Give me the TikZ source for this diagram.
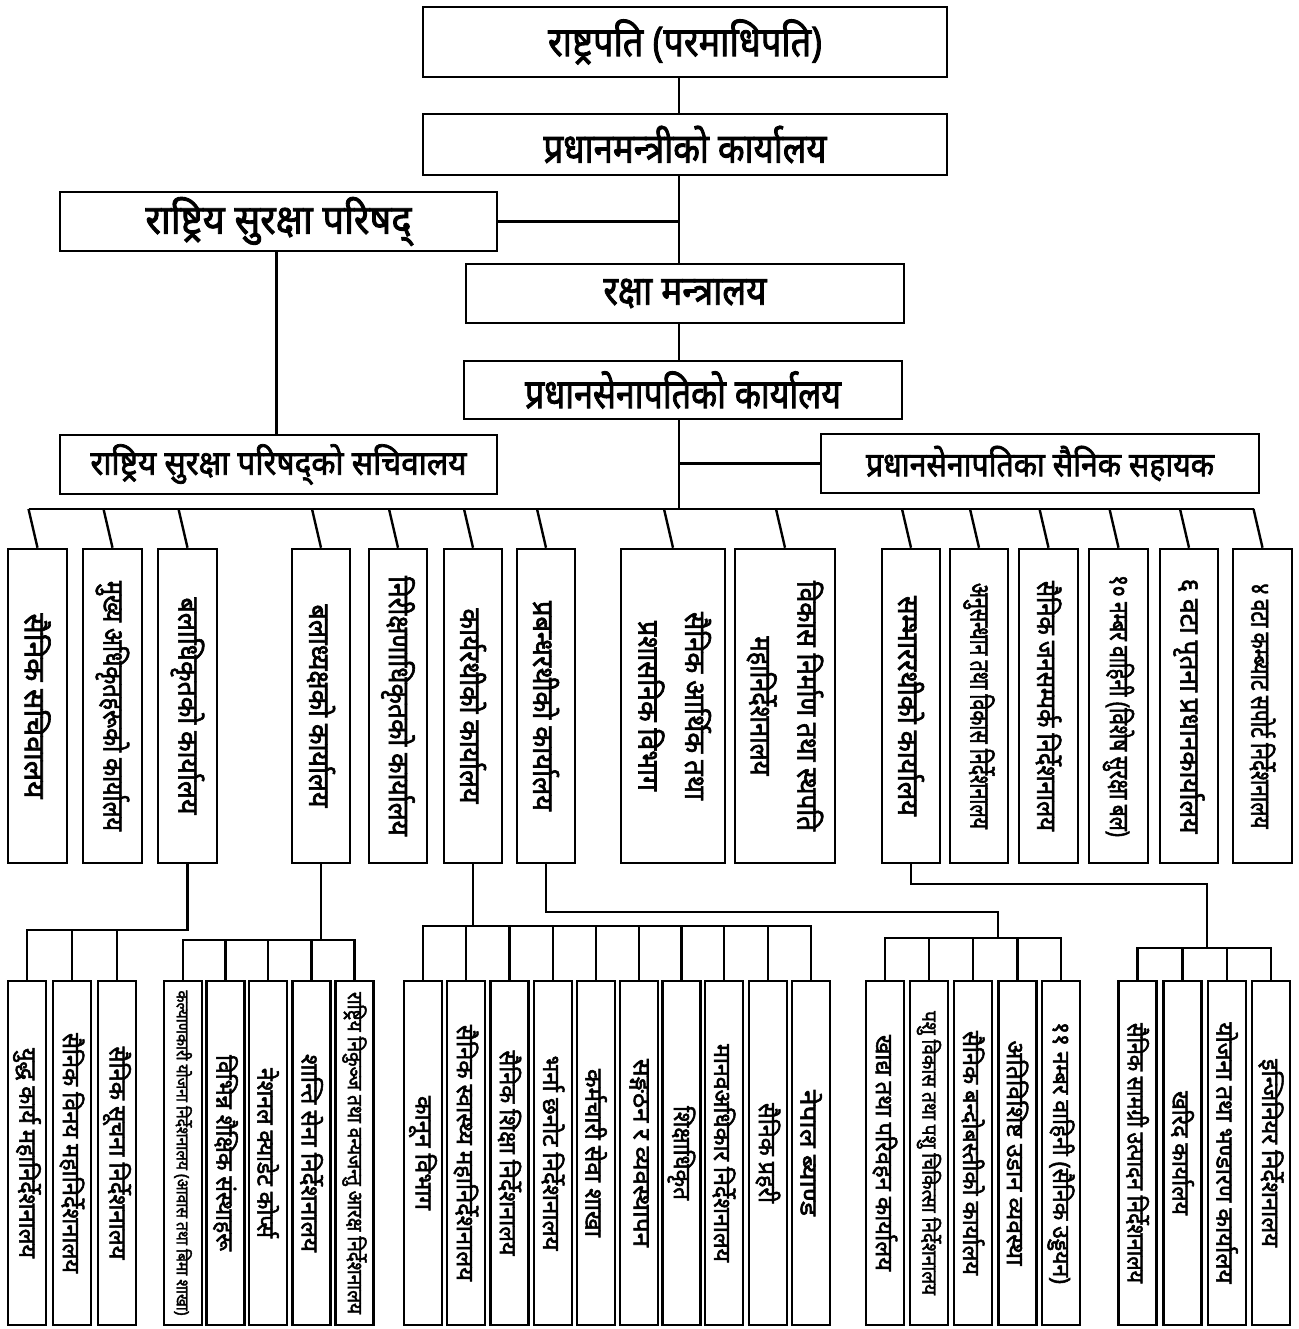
\documentclass[tikz,border=0pt]{standalone}
\usepackage{fontspec}
\usepackage{graphicx}
\usetikzlibrary{calc}
\newfontfamily\dev[Script=Devanagari,FakeBold=2.2]{Noto Sans}
\newcommand\myfs[1]{\fontsize{#1}{#1}\selectfont}
\newcommand\hs[3]{\resizebox{#2pt}{\height}{\myfs{#1}#3}}
\newcommand\vt[3]{\rotatebox{-90}{\hs{#1}{#2}{#3}}}
\newcommand\vtt[5]{\rotatebox{-90}{\begin{tabular}{@{}c@{}}\hs{#1}{#2}{#3}\\[17pt]\hs{#1}{#4}{#5}\end{tabular}}}
\tikzset{
  box/.style={draw, line width=2.6pt, inner sep=0pt, font=\dev, align=center},
  conn/.style={line width=2.4pt},
  midbox/.style={box, minimum height=314pt},
  lowbox/.style={box, minimum height=344pt, minimum width=38pt},
}
\begin{document}
\begin{tikzpicture}[x=1pt,y=-1pt]
\useasboundingbox (0,0) rectangle (1298,1329);
\coordinate (tx) at (679,0);
% top level
\node[box, minimum width=524pt, minimum height=70pt] (pres) at (685,42) {\hs{41}{274}{राष्ट्रपति (परमाधिपति)}};
\node[box, minimum width=524pt, minimum height=61pt] (pm) at (685,144.5) {\hs{41}{283}{प्रधानमन्त्रीको कार्यालय}};
\node[box, minimum width=437pt, minimum height=59pt] (nsc) at (278.5,221.5) {\hs{41}{266}{राष्ट्रिय सुरक्षा परिषद्}};
\node[box, minimum width=438pt, minimum height=59pt] (mod) at (685,293.5) {\hs{41}{163}{रक्षा मन्त्रालय}};
\node[box, minimum width=438pt, minimum height=58pt] (coas) at (683,390) {\hs{41}{316}{प्रधानसेनापतिको कार्यालय}};
\node[box, minimum width=437pt, minimum height=59pt] (nscs) at (278.5,464.5) {\hs{34}{376}{राष्ट्रिय सुरक्षा परिषद्को सचिवालय}};
\node[box, minimum width=438pt, minimum height=59pt] (ma) at (1040,463.5) {\hs{34}{348}{प्रधानसेनापतिका सैनिक सहायक}};
\coordinate (bus) at (0,509);
\draw[conn] (pres.south -| tx) -- (pm.north -| tx);
\draw[conn] (pm.south -| tx) -- (mod.north -| tx);
\draw[conn] (nsc.east) -- (nsc.east -| tx);
\draw[conn] (mod.south -| tx) -- (coas.north -| tx);
\draw[conn] (coas.south -| tx) -- (tx |- bus);
\draw[conn] (ma.west) -- (ma.west -| tx);
\draw[conn] ($(nsc.south)+(-2,0)$) -- ($(nscs.north)+(-2,0)$);
% middle row
\node[midbox, minimum width=59pt] (A) at (37.5,706) {\vt{29}{185}{सैनिक सचिवालय}};
\node[midbox, minimum width=59pt] (B) at (112.5,706) {\vt{29}{250}{मुख्य अधिकृतहरूको कार्यालय}};
\node[midbox, minimum width=59pt] (C) at (187.5,706) {\vt{29}{217}{बलाधिकृतको कार्यालय}};
\node[midbox, minimum width=58pt] (D) at (321,706) {\vt{29}{203}{बलाध्यक्षको कार्यालय}};
\node[midbox, minimum width=58pt] (E) at (398,706) {\vt{29}{260}{निरीक्षणाधिकृतको कार्यालय}};
\node[midbox, minimum width=58pt] (F) at (473,706) {\vt{29}{195}{कार्यरथीको कार्यालय}};
\node[midbox, minimum width=58pt] (G) at (546,706) {\vt{29}{210}{प्रबन्धरथीको कार्यालय}};
\node[midbox, minimum width=104pt] (H) at (673,706) {\vtt{29}{188}{सैनिक आर्थिक तथा}{170}{प्रशासनिक विभाग}};
\node[midbox, minimum width=100pt] (I) at (785,706) {\vtt{29}{250}{विकास निर्माण तथा स्थपति}{139}{महानिर्देशनालय}};
\node[midbox, minimum width=58pt] (J) at (911,706) {\vt{29}{220}{सम्भाररथीको कार्यालय}};
\node[midbox, minimum width=58pt] (K) at (979,706) {\vt{27}{246}{अनुसन्धान तथा विकास निर्देशनालय}};
\node[midbox, minimum width=59pt] (L) at (1048.5,706) {\vt{27}{250}{सैनिक जनसम्पर्क निर्देशनालय}};
\node[midbox, minimum width=59pt] (M) at (1118.5,706) {\vt{27}{262}{१० नम्बर वाहिनी (विशेष सुरक्षा बल)}};
\node[midbox, minimum width=58pt] (N) at (1189,706) {\vt{27}{255}{६ वटा पृतना प्रधानकार्यालय}};
\node[midbox, minimum width=59pt] (O) at (1262.5,706) {\vt{27}{245}{४ वटा कम्ब्याट सपोर्ट निर्देशनालय}};
\draw[conn] ($(A.north |- bus)+(-9,0)$) -- ($(O.north |- bus)+(-9,0)$);
\foreach \n in {A,B,C,D,E,F,G,H,I,J,K,L,M,N,O}
  \draw[conn] ($(\n.north |- bus)+(-9,0)$) -- (\n.north);
% bottom row, group P
\node[lowbox] (P1) at (27,1153) {\vt{24}{210}{युद्ध कार्य महानिर्देशनालय}};
\node[lowbox] (P2) at (72,1153) {\vt{24}{240}{सैनिक विनय महानिर्देशनालय}};
\node[lowbox] (P3) at (117,1153) {\vt{24}{213}{सैनिक सूचना निर्देशनालय}};
\coordinate (busP) at (0,930);
\draw[conn] (C.south) -- (C.south |- busP) -- (P1.north |- busP) -- (P1.north);
\draw[conn] (P2.north) -- (P2.north |- busP);
\draw[conn] (P3.north) -- (P3.north |- busP);
% group Q
\node[lowbox] (Q1) at (183,1153) {\vt{17}{325}{कल्याणकारी योजना निर्देशनालय (आवास तथा बिमा शाखा)}};
\node[lowbox] (Q2) at (225.5,1153) {\vt{24}{196}{विभिन्न शैक्षिक संस्थाहरू}};
\node[lowbox] (Q3) at (268,1153) {\vt{24}{170}{नेशनल क्याडेट कोर्प्स}};
\node[lowbox] (Q4) at (311.5,1153) {\vt{24}{198}{शान्ति सेना निर्देशनालय}};
\node[lowbox] (Q5) at (354.5,1153) {\vt{21}{322}{राष्ट्रिय निकुञ्ज तथा वन्यजन्तु आरक्ष निर्देशनालय}};
\coordinate (busQ) at (0,940);
\draw[conn] (D.south) -- (D.south |- busQ);
\draw[conn] (Q1.north) -- (Q1.north |- busQ) -- (Q5.north |- busQ) -- (Q5.north);
\foreach \n in {Q2,Q3,Q4} \draw[conn] (\n.north) -- (\n.north |- busQ);
% group R
\node[lowbox] (R1) at (423,1153) {\vt{24}{114}{कानून विभाग}};
\node[lowbox] (R2) at (466,1153) {\vt{24}{256}{सैनिक स्वास्थ्य महानिर्देशनालय}};
\node[lowbox] (R3) at (509.5,1153) {\vt{24}{205}{सैनिक शिक्षा निर्देशनालय}};
\node[lowbox] (R4) at (553,1153) {\vt{24}{195}{भर्ना छनोट निर्देशनालय}};
\node[lowbox] (R5) at (596,1153) {\vt{24}{168}{कर्मचारी सेवा शाखा}};
\node[lowbox] (R6) at (639,1153) {\vt{24}{188}{सङ्गठन र व्यवस्थापन}};
\node[lowbox] (R7) at (681.5,1153) {\vt{24}{94}{शिक्षाधिकृत}};
\node[lowbox] (R8) at (724,1153) {\vt{24}{218}{मानवअधिकार निर्देशनालय}};
\node[lowbox] (R9) at (768,1153) {\vt{24}{100}{सैनिक प्रहरी}};
\node[lowbox] (R10) at (811,1153) {\vt{24}{126}{नेपाल ब्याण्ड}};
\coordinate (busR) at (0,926);
\draw[conn] (F.south) -- (F.south |- busR);
\draw[conn] (R1.north) -- (R1.north |- busR) -- (R10.north |- busR) -- (R10.north);
\foreach \n in {R2,R3,R4,R5,R6,R7,R8,R9} \draw[conn] (\n.north) -- (\n.north |- busR);
% group S
\node[lowbox] (S1) at (885,1153) {\vt{24}{236}{खाद्य तथा परिवहन कार्यालय}};
\node[lowbox] (S2) at (929,1153) {\vt{21}{284}{पशु विकास तथा पशु चिकित्सा निर्देशनालय}};
\node[lowbox] (S3) at (973,1153) {\vt{24}{244}{सैनिक बन्दोबस्तीको कार्यालय}};
\node[lowbox] (S4) at (1017.5,1153) {\vt{24}{225}{अतिविशिष्ट उडान व्यवस्था}};
\node[lowbox] (S5) at (1061,1153) {\vt{24}{262}{११ नम्बर वाहिनी (सैनिक उड्डयन)}};
\coordinate (busS) at (0,938);
\coordinate (feedS) at (998,912);
\draw[conn] (G.south) -- (G.south |- feedS) -- (feedS) -- (feedS |- busS);
\draw[conn] (S1.north) -- (S1.north |- busS) -- (S5.north |- busS) -- (S5.north);
\foreach \n in {S2,S3,S4} \draw[conn] (\n.north) -- (\n.north |- busS);
% group T
\node[lowbox] (T1) at (1137.5,1153) {\vt{24}{260}{सैनिक सामग्री उत्पादन निर्देशनालय}};
\node[lowbox] (T2) at (1182.5,1153) {\vt{24}{124}{खरिद कार्यालय}};
\node[lowbox] (T3) at (1227,1153) {\vt{24}{261}{योजना तथा भण्डारण कार्यालय}};
\node[lowbox] (T4) at (1271,1153) {\vt{24}{188}{इन्जिनियर निर्देशनालय}};
\coordinate (busT) at (0,948);
\coordinate (feedT) at (1207,884);
\draw[conn] (J.south) -- (J.south |- feedT) -- (feedT) -- (feedT |- busT);
\draw[conn] (T1.north) -- (T1.north |- busT) -- (T4.north |- busT) -- (T4.north);
\foreach \n in {T2,T3} \draw[conn] (\n.north) -- (\n.north |- busT);
\end{tikzpicture}
\end{document}
